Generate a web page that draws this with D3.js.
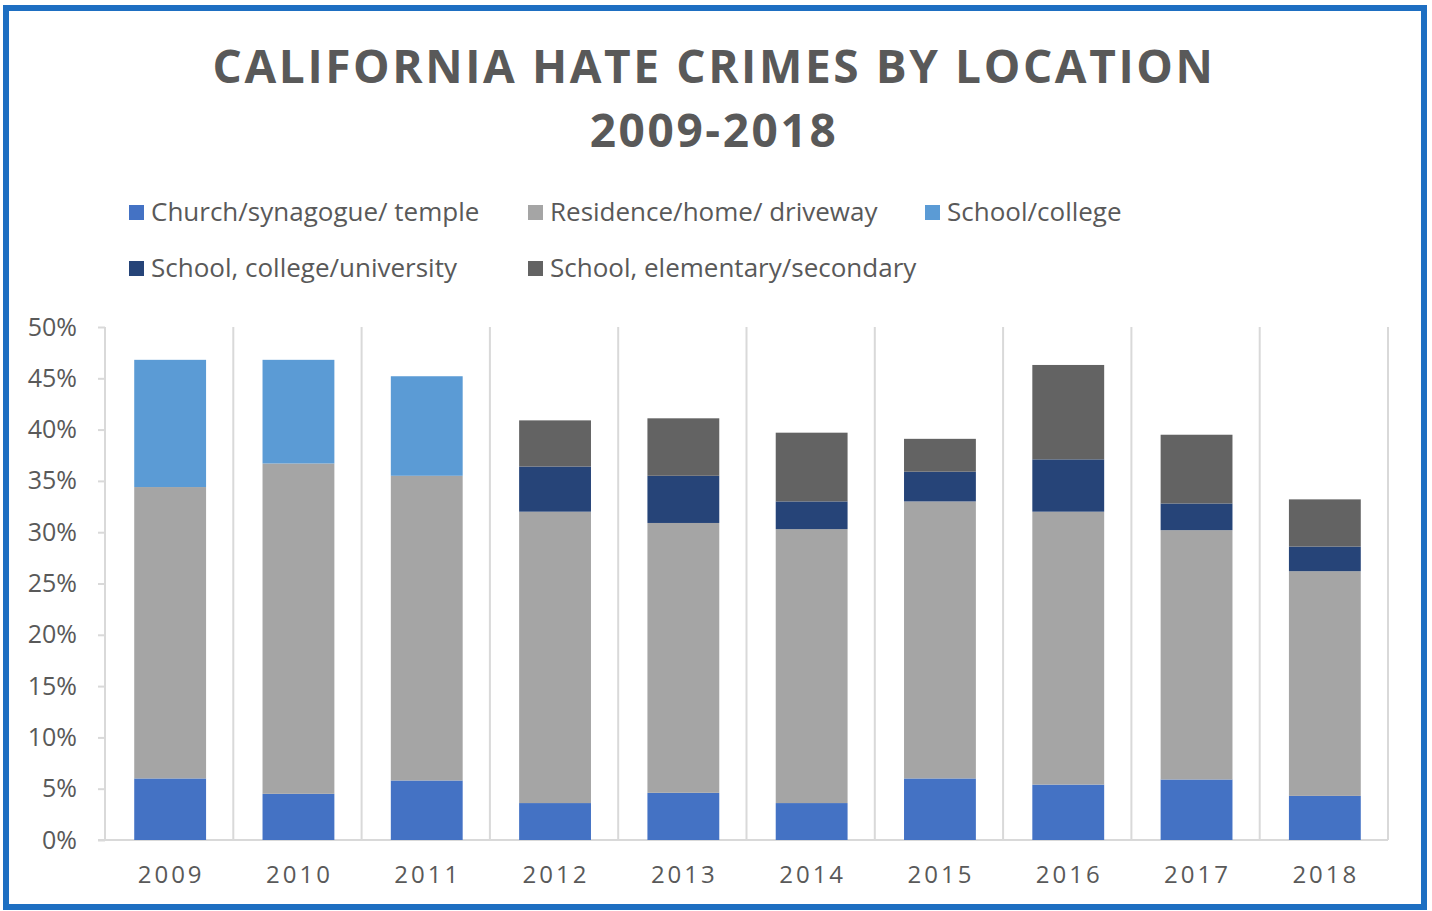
<!DOCTYPE html>
<meta charset="utf-8">
<style>
	body { margin: 0; background: #fff; }
	text { font-family: "Open Sans", sans-serif; }
</style>
<body>
<svg id="svg"></svg>
<script src="https://cdn.jsdelivr.net/npm/d3@7/dist/d3.min.js"></script>
<script>

// DATA (percent of all hate crimes)
var years = ['2009', '2010', '2011', '2012', '2013', '2014', '2015', '2016', '2017', '2018']
var series = [
	'Church/synagogue/ temple',
	'Residence/home/ driveway',
	'School/college',
	'School, college/university',
	'School, elementary/secondary'
]
var church     = [6.0, 4.5, 5.8, 3.6, 4.6, 3.6, 6.0, 5.4, 5.9, 4.3]
var residence  = [28.4, 32.2, 29.7, 28.4, 26.3, 26.7, 27.0, 26.6, 24.3, 21.9]
var schoolColl = [12.4, 10.1, 9.7, 0, 0, 0, 0, 0, 0, 0]
var university = [0, 0, 0, 4.4, 4.6, 2.7, 2.9, 5.1, 2.6, 2.4]
var elementary = [0, 0, 0, 4.5, 5.6, 6.7, 3.2, 9.2, 6.7, 4.6]
var yTicks = [0, 5, 10, 15, 20, 25, 30, 35, 40, 45, 50]

var colors = [ '#4472c4', '#a5a5a5', '#5b9bd5', '#264478', '#636363' ]

// CANVAS
var width = 1432
var height = 911

var svg = d3.select( '#svg' )
	.attr( 'width', width )
	.attr( 'height', height )

// blue frame
svg.append( 'rect' )
	.attr( 'x', 6 ).attr( 'y', 8 )
	.attr( 'width', 1418 ).attr( 'height', 899 )
	.attr( 'fill', 'none' )
	.attr( 'stroke', '#1e6fc2' )
	.attr( 'stroke-width', 6 )

// TITLE
var title = svg.append( 'text' )
	.attr( 'text-anchor', 'middle' )
	.style( 'font-size', '46px' )
	.style( 'font-weight', 'bold' )
	.style( 'letter-spacing', '2.6px' )
	.attr( 'fill', '#595959' )
title.append( 'tspan' ).attr( 'x', 714 ).attr( 'y', 83 ).text( 'CALIFORNIA HATE CRIMES BY LOCATION' )
title.append( 'tspan' ).attr( 'x', 714 ).attr( 'y', 147 ).text( '2009-2018' )

// LEGEND
var legendPos = [ [129, 212], [528, 212], [925, 212], [129, 268], [528, 268] ]
var legend = svg.append( 'g' ).selectAll( 'g' )
	.data( series )
	.enter()
	.append( 'g' )
		.attr( 'transform', ( d, i ) => 'translate(' + legendPos[i][0] + ',' + legendPos[i][1] + ')' )
legend.append( 'rect' )
	.attr( 'x', 0 ).attr( 'y', -7 )
	.attr( 'width', 15 ).attr( 'height', 15 )
	.attr( 'fill', ( d, i ) => colors[i] )
legend.append( 'text' )
	.attr( 'x', 22 ).attr( 'y', 9 )
	.style( 'font-size', '26px' )
	.attr( 'fill', '#595959' )
	.text( d => d )

// SCALES
var x = d3.scaleBand()
	.domain( years )
	.range([ 105, 1388 ])
	.paddingInner( 0.44 )
	.paddingOuter( 0.22 )

var y = d3.scaleLinear()
	.domain([ 0, 50 ])
	.range([ 840, 327 ])

var grid = '#d9d9d9'

// category separators
svg.append( 'g' ).selectAll( 'line' )
	.data( years.concat([ 'end' ]) )
	.enter()
	.append( 'line' )
		.attr( 'x1', ( d, i ) => 105 + i * ( 1283 / years.length ) )
		.attr( 'x2', ( d, i ) => 105 + i * ( 1283 / years.length ) )
		.attr( 'y1', y( 50 ) )
		.attr( 'y2', y( 0 ) )
		.attr( 'stroke', grid )
		.attr( 'stroke-width', 2 )

// Y axis
var yAxis = svg.append( 'g' )
	.attr( 'transform', 'translate(105,0)' )
	.call( d3.axisLeft( y ).tickValues( yTicks ).tickSize( 7 ).tickPadding( 21 ).tickFormat( d => d + '%' ) )
yAxis.select( '.domain' ).remove()
yAxis.selectAll( 'line' ).attr( 'stroke', grid ).attr( 'stroke-width', 2 )
yAxis.selectAll( 'text' )
	.style( 'font-size', '25px' )
	.style( 'font-family', '"Open Sans", sans-serif' )
	.attr( 'fill', '#595959' )

// baseline
svg.append( 'line' )
	.attr( 'x1', 98 ).attr( 'x2', 1388 )
	.attr( 'y1', y( 0 ) ).attr( 'y2', y( 0 ) )
	.attr( 'stroke', grid )
	.attr( 'stroke-width', 2 )

// X labels
svg.append( 'g' ).selectAll( 'text' )
	.data( years )
	.enter()
	.append( 'text' )
		.attr( 'x', d => x( d ) + x.bandwidth() / 2 + 2 )
		.attr( 'y', 883 )
		.attr( 'text-anchor', 'middle' )
		.style( 'font-size', '24px' )
		.style( 'letter-spacing', '3px' )
		.attr( 'fill', '#595959' )
		.text( d => d )

// STACKED BARS
var table = years.map( ( yr, i ) => ({
	year: yr,
	s0: church[i], s1: residence[i], s2: schoolColl[i], s3: university[i], s4: elementary[i]
}))
var stack = d3.stack().keys([ 's0', 's1', 's2', 's3', 's4' ])( table )

svg.append( 'g' ).selectAll( 'g' )
	.data( stack )
	.enter()
	.append( 'g' )
		.attr( 'fill', ( d, i ) => colors[i] )
	.selectAll( 'rect' )
	.data( d => d.filter( p => p[1] > p[0] ) )
	.enter()
	.append( 'rect' )
		.attr( 'x', d => x( d.data.year ) + 1 )
		.attr( 'width', x.bandwidth() )
		.attr( 'y', d => y( d[1] ) )
		.attr( 'height', d => y( d[0] ) - y( d[1] ) )

</script>
</body>
